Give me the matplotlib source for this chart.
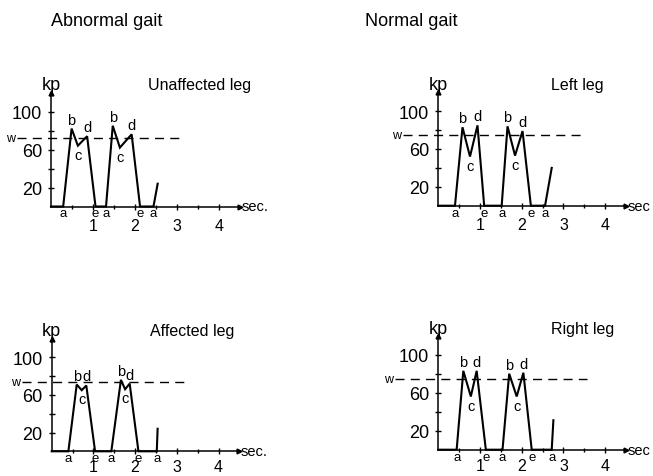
import matplotlib
matplotlib.use("Agg")
import matplotlib.pyplot as plt
from matplotlib import font_manager

# ---------------------------------------------------------------- fonts
_installed = {f.name for f in font_manager.fontManager.ttflist}
FONT = "Liberation Sans Narrow" if "Liberation Sans Narrow" in _installed else "Liberation Sans"
plt.rcParams["font.family"] = [FONT, "DejaVu Sans"]

# ---------------------------------------------------------------- data
# Ground reaction force (kp) against time (sec.) for one gait cycle and a half.
# Phase letters: a = heel strike, b = first peak, c = mid-stance dip,
# d = push-off peak, e = toe off.
phase_letters = ["", "a", "b", "c", "d", "e", "a", "b", "c", "d", "e", "a", ""]

unaffected_t = [0, 0.29, 0.49, 0.64, 0.86, 1.06, 1.31, 1.47, 1.64, 1.92, 2.12, 2.44, 2.54]
unaffected_kp = [0, 0, 82, 64, 74, 0, 0, 85, 62, 76, 0, 0, 24]

left_t = [0, 0.40, 0.58, 0.76, 0.94, 1.10, 1.52, 1.66, 1.84, 2.02, 2.22, 2.56, 2.72]
left_kp = [0, 0, 83, 52, 85, 0, 0, 84, 53, 79, 0, 0, 40]

affected_t = [0, 0.40, 0.60, 0.72, 0.83, 1.04, 1.43, 1.66, 1.76, 1.87, 2.08, 2.52, 2.54]
affected_kp = [0, 0, 71, 65, 70, 0, 0, 76, 66, 72, 0, 0, 24]

right_t = [0, 0.44, 0.60, 0.78, 0.92, 1.14, 1.54, 1.70, 1.88, 2.04, 2.24, 2.72, 2.76]
right_kp = [0, 0, 83, 56, 83, 0, 0, 80, 56, 81, 0, 0, 31]

# body weight level w (kp)
weight_unaffected = 72
weight_left = 75
weight_affected = 74
weight_right = 74

x_ticks = [1, 2, 3, 4]
x_minor_ticks = [0.5, 1.5, 2.5, 3.5]
y_ticks = [20, 40, 60, 80, 100]
y_tick_labels = ["20", "", "60", "", "100"]

column_titles = ["Abnormal gait", "Normal gait"]

# ---------------------------------------------------------------- figure
W, H = 653, 477
fig = plt.figure(figsize=(W / 100, H / 100), dpi=100)

X_MAX, Y_MAX = 4.5, 120


def make_axes(x0, y0, px_per_s, px_per_kp):
    """Axes whose origin sits at pixel (x0, y0) measured from the top-left."""
    rect = [x0 / W, (H - y0) / H, X_MAX * px_per_s / W, Y_MAX * px_per_kp / H]
    ax = fig.add_axes(rect)
    ax.set_xlim(0, X_MAX)
    ax.set_ylim(0, Y_MAX)
    ax.patch.set_visible(False)
    return ax


def draw_panel(ax, t, kp, weight, title, title_x, w_from, w_to, sec_label, xpad):
    for side in ("top", "right"):
        ax.spines[side].set_visible(False)
    for side in ("left", "bottom"):
        ax.spines[side].set_linewidth(1.1)
    # arrow heads at the ends of both axes
    ax.plot(1, 0, ">", color="k", ms=3.5, transform=ax.get_yaxis_transform(), clip_on=False)
    ax.plot(0, 1, "^", color="k", ms=3.5, transform=ax.get_xaxis_transform(), clip_on=False)

    ax.set_xticks(x_ticks)
    ax.set_xticklabels([str(v) for v in x_ticks])
    ax.set_xticks(x_minor_ticks, minor=True)
    ax.set_yticks(y_ticks)
    ax.set_yticklabels(y_tick_labels)
    ax.tick_params(axis="x", which="major", direction="inout", length=5, width=1,
                   pad=xpad, labelsize=11.5)
    ax.tick_params(axis="x", which="minor", direction="inout", length=3, width=1)
    ax.tick_params(axis="y", which="major", direction="inout", length=4, width=1,
                   pad=4.5, labelsize=13)

    # body-weight reference line
    ax.plot([w_from, w_to], [weight, weight], color="k", lw=1.0,
            dashes=(6.5, 4.5), clip_on=False)
    ax.text(w_from - 0.05, weight, "w", ha="right", va="center", fontsize=9,
            clip_on=False)

    # force curve
    ax.plot(t, kp, color="k", lw=1.5, solid_joinstyle="miter", clip_on=False)

    for ti, ki, letter in zip(t, kp, phase_letters):
        if not letter:
            continue
        if letter in ("a", "e"):
            ax.annotate(letter, (ti, 0), xytext=(0, -5.0), textcoords="offset points",
                        ha="center", va="center", fontsize=9.5, annotation_clip=False)
        elif letter == "c":
            ax.annotate(letter, (ti, ki), xytext=(0, -6.5), textcoords="offset points",
                        ha="center", va="center", fontsize=10.5, annotation_clip=False)
        else:
            ax.annotate(letter, (ti, ki), xytext=(0, 6.5), textcoords="offset points",
                        ha="center", va="center", fontsize=10.5, annotation_clip=False)

    ax.text(0, 128, "kp", ha="center", va="center", fontsize=13, clip_on=False)
    ax.text(title_x, 128, title, ha="left", va="center", fontsize=11.5, clip_on=False)
    ax.text(4.53, 0, sec_label, ha="left", va="center", fontsize=10.5, clip_on=False)


ax_tl = make_axes(51.0, 207.5, 42.0, 0.95)
ax_tr = make_axes(438.3, 206.7, 41.7, 0.945)
ax_bl = make_axes(51.7, 452.3, 41.7, 0.94)
ax_br = make_axes(438.3, 450.7, 41.7, 0.95)

draw_panel(ax_tl, unaffected_t, unaffected_kp, weight_unaffected, "Unaffected leg", 2.32,
           -0.80, 3.20, "sec.", 5.5)
draw_panel(ax_tr, left_t, left_kp, weight_left, "Left leg", 2.70, -0.85, 3.44, "sec", 5.5)
draw_panel(ax_bl, affected_t, affected_kp, weight_affected, "Affected leg", 2.36,
           -0.72, 3.24, "sec.", 3.0)
draw_panel(ax_br, right_t, right_kp, weight_right, "Right leg", 2.70, -1.04, 3.56, "sec", 3.5)

fig.text(107 / W, 1 - 21 / H, column_titles[0], ha="center", va="center", fontsize=13)
fig.text(411 / W, 1 - 21 / H, column_titles[1], ha="center", va="center", fontsize=13)

fig.savefig("out.png", dpi=100)
